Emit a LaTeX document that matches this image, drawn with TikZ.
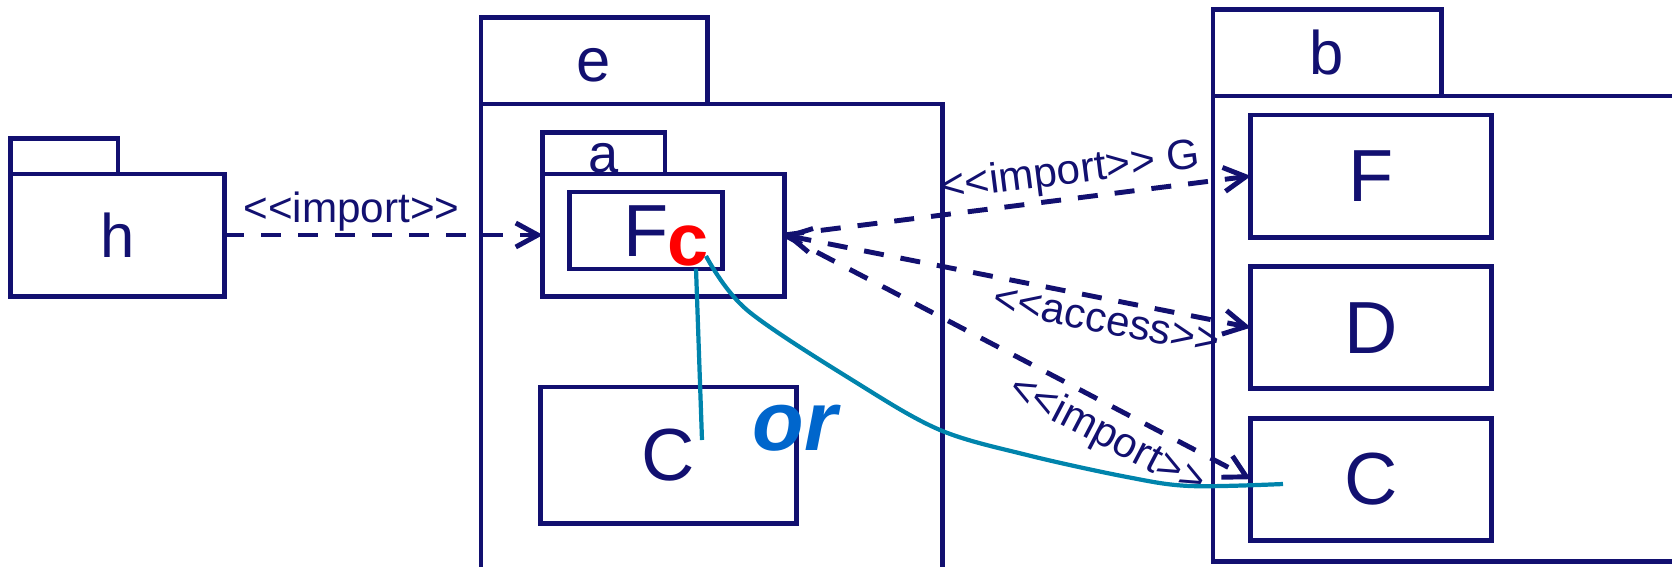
\documentclass[tikz,border=0pt]{standalone}
\usepackage{fontspec}
\setmainfont{Liberation Sans}[Ligatures=TeXOff]
\usetikzlibrary{arrows.meta,positioning}
\definecolor{umlnavy}{RGB}{18,16,112}
\definecolor{linkteal}{RGB}{0,132,172}
\definecolor{orblue}{RGB}{0,102,204}

\begin{document}
\begin{tikzpicture}[
  x=0.01cm, y=-0.01cm,
  color=umlnavy, line width=1.4pt,
  box/.style={draw, inner sep=0pt, outer sep=0pt},
  pkgname/.style={font=\fontsize{17.5}{20}\selectfont},
  clsname/.style={font=\fontsize{21}{25}\selectfont},
  lbl/.style={font=\fontsize{12}{14}\selectfont, inner sep=2pt},
  barb/.tip={Straight Barb[length=2.2mm, width=2.4mm]},
  dep/.style={dash pattern=on 0.2cm off 0.17cm, -barb},
  orline/.style={draw=linkteal, line width=1.2pt},
]
\useasboundingbox (0,0) rectangle (1672,566);
\clip (0,0) rectangle (1672,566);

% package h
\node[box, pkgname, minimum width=2.13cm, minimum height=1.22cm] (h) at (117.5,235) {h};
\node[box, minimum width=1.07cm, minimum height=0.35cm, above right=0pt of h.north west] (htab) {};

% package e with a and C
\node[box, minimum width=4.61cm, minimum height=5cm, anchor=north west] (e) at (481,104) {};
\node[box, pkgname, minimum width=2.26cm, minimum height=0.86cm, text height=0.42cm, text depth=0pt,
  above right=0pt of e.north west] (etab) {e};
\node[box, minimum width=2.41cm, minimum height=1.22cm] (a) at (663.5,235) {};
\node[box, font=\fontsize{15.4}{18}\selectfont, minimum width=1.22cm, minimum height=0.41cm,
  text height=0.39cm, text depth=0pt, above right=0pt of a.north west] (atab) {a};
\node[box, minimum width=1.52cm, minimum height=0.77cm] (Fa) at (646,230.5) {};
\node[clsname, inner sep=0pt] (Falbl) at (646,231.5) {F};
\node[clsname, inner sep=0pt, text=red, font=\fontsize{21}{25}\selectfont\bfseries] (c) at (688,246) {c};
\node[box, clsname, minimum width=2.55cm, minimum height=1.36cm] (Ce) at (668.5,455) {C};

% package b
\node[box, minimum width=5.37cm, minimum height=4.65cm, anchor=north west] (b) at (1213,96) {};
\node[box, pkgname, minimum width=2.28cm, minimum height=0.86cm, above right=0pt of b.north west] (btab) {b};
\node[box, clsname, minimum width=2.4cm, minimum height=1.22cm] (Fb) at (1371,176) {F};
\node[box, clsname, minimum width=2.4cm, minimum height=1.22cm, below=0.295cm of Fb] (Db) {D};
\node[box, clsname, minimum width=2.4cm, minimum height=1.22cm, below=0.295cm of Db] (Cb) {C};

% dependencies
\draw[dep] (h) -- node[lbl, above=-1.5pt, pos=0.4] {<<import>>} (a);
\draw[dep] (a.east) -- node[lbl, above=-1pt, sloped, pos=0.62] {<<import>> G} (Fb.west);
\draw[dep, barb-barb] (a.east) -- node[lbl, below, sloped, pos=0.7] {<<access>>} (Db.west);
\draw[dep] (a.east) -- node[lbl, below, sloped, pos=0.72] {<<import>>} (Cb.west);

% the two readings of c
\coordinate (Cestub) at (702,440);
\coordinate (Cbstub) at (1283,484);
\draw[orline] ([xshift=0.08cm]c.south) -- (Cestub);
\draw[orline] plot[smooth, tension=0.55] coordinates {([shift={(-5,10)}]c.east) (747,310) (857,383)
  (940,430) (1027,455) (1127,477) (1190,486) (Cbstub)};
\node[text=orblue, font=\fontsize{24}{28}\selectfont\bfseries\itshape] (or) at (795,428) {or};
\end{tikzpicture}
\end{document}
